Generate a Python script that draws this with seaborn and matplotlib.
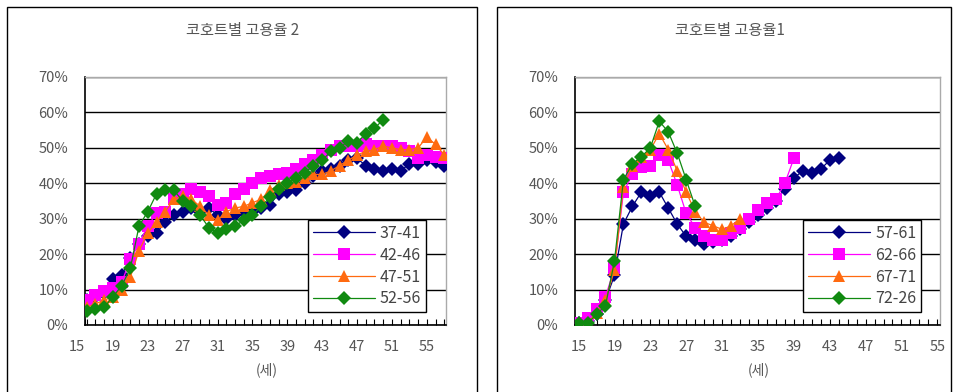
import matplotlib
matplotlib.use("Agg")
import matplotlib.pyplot as plt
from matplotlib.patches import Rectangle
from matplotlib.ticker import PercentFormatter, MultipleLocator
import seaborn as sns
import pandas as pd

# ---------------- data ----------------
left_title = "코호트별 고용율 2"
right_title = "코호트별 고용율1"
xlabel = "(세)"

left_cohorts = ["37-41", "42-46", "47-51", "52-56"]
left_ages_a = list(range(16, 58))  # 16..57
c37_41 = [7, 8, 9, 13, 14, 19, 23, 25, 26, 29, 31, 32, 33, 32, 33, 31, 30, 31, 32, 32, 33,
          34, 37, 37.5, 38, 40, 42, 43.5, 44, 45, 46.5, 47, 45, 44, 43.5, 44, 43.5, 45.5,
          45.5, 46.5, 46, 45]
c42_46 = [7, 8.5, 9.5, 10.5, 12, 18.5, 23, 28, 31.5, 32, 35.5, 37, 38.5, 37.5, 36.5, 34,
          34.5, 37, 38.5, 40, 41.5, 42, 42.5, 43, 44, 45.5, 46.5, 48, 49.5, 50.5, 50.5,
          50.5, 51, 50.5, 50.5, 50.5, 50, 49, 47, 48, 47.5, 47]
c47_51 = [5, 6, 7, 8, 10, 13.5, 21, 26, 29, 32, 35.5, 36.5, 35.5, 33.5, 31, 29.5, 32, 33,
          33.5, 34.5, 35.5, 38, 39.5, 40, 40.5, 41.5, 42.5, 42.5, 43.5, 45, 46.5, 48, 49,
          49.5, 50.5, 50, 49.5, 49.5, 50, 53, 51, 48]
left_ages_g = list(range(16, 51))  # 16..50
c52_56 = [4, 4.5, 5, 8, 11, 16, 28, 32, 37, 38, 38, 35, 33.5, 31, 27.5, 26, 27, 28, 29.5,
          31, 33.5, 36, 38.5, 40, 41.5, 43, 45, 46.5, 49, 50, 52, 51.5, 54, 55.5, 58]

right_cohorts = ["57-61", "62-66", "67-71", "72-26"]
c57_61_ages = list(range(15, 45))  # 15..44
c57_61 = [0.5, 1, 3, 7, 14, 28.5, 33.5, 37.5, 36.5, 37.5, 33, 28.5, 25, 24, 23, 23.5, 24,
          25, 27, 29, 31, 33, 35, 38.5, 41.5, 43.5, 43, 44, 46.5, 47]
c62_66_ages = list(range(15, 40))  # 15..39
c62_66 = [0.5, 2, 4.5, 8, 16, 37.5, 42.5, 44.5, 45, 48, 46.5, 39.5, 31.5, 27.5, 25, 24, 24,
          26, 27.5, 30, 32.5, 34.5, 35.5, 40, 47]
c67_71_ages = list(range(15, 34))  # 15..33
c67_71 = [0, 0.5, 3.5, 7, 15.5, 39, 45, 47.5, 49.5, 54, 49.5, 43.5, 37.5, 32, 29, 28, 27,
          28, 30]
c72_26_ages = list(range(15, 29))  # 15..28
c72_26 = [0.5, 0.5, 3, 5.5, 18, 41, 45.5, 47.5, 50, 57.5, 54.5, 48.5, 41, 33.5]

xtick_vals = list(range(15, 56, 4))
ytick_vals = list(range(0, 71, 10))

# ---------------- style ----------------
sns.set_style("white")
plt.rcParams["font.family"] = ["Noto Sans CJK KR", "DejaVu Sans"]

colors = ["#000080", "#FF00FF", "#FF6A10", "#108A10"]
markers = ["D", "s", "^", "D"]
msizes = [7, 8.5, 9, 7]
text_gray = "#555555"

W, H = 957, 392
fig = plt.figure(figsize=(W / 100, H / 100), dpi=100)


def frac_box(x0, y0, x1, y1):
    return [x0 / W, 1 - y1 / H, (x1 - x0) / W, (y1 - y0) / H]


def long_df(series_list, names):
    frames = []
    for (ages, vals), name in zip(series_list, names):
        frames.append(pd.DataFrame({"age": ages, "rate": vals, "cohort": name}))
    return pd.concat(frames, ignore_index=True)


def draw_panel(ax, df, names, xlim, leg_anchor):
    for i, name in enumerate(names):
        sub = df[df["cohort"] == name]
        sns.lineplot(data=sub, x="age", y="rate", ax=ax, color=colors[i],
                     marker=markers[i], markersize=msizes[i], markeredgewidth=0,
                     linewidth=0.9, label=name, zorder=3 + i)
    ax.set_xlim(*xlim)
    ax.set_ylim(0, 70)
    ax.set_yticks(ytick_vals)
    ax.yaxis.set_major_formatter(PercentFormatter(decimals=0))
    ax.grid(axis="y", color="black", linewidth=1.0)
    ax.grid(axis="x", visible=False)
    ax.set_axisbelow(True)
    ax.set_xlabel("")
    ax.set_ylabel("")
    for s in ["left", "bottom"]:
        ax.spines[s].set_color("black")
        ax.spines[s].set_linewidth(1.2)
    for s in ["top", "right"]:
        ax.spines[s].set_color("#AAAAAA")
        ax.spines[s].set_linewidth(1.0)
    ax.tick_params(axis="y", length=0, pad=12, labelsize=10.5, labelcolor=text_gray)
    ax.xaxis.set_minor_locator(MultipleLocator(1))
    ax.tick_params(axis="x", which="both", direction="in", length=4, width=0.8,
                   color="black", bottom=True)
    ax.tick_params(axis="x", which="major", pad=11, labelsize=10.5, labelcolor=text_gray)
    leg = ax.legend(loc="lower left", bbox_to_anchor=leg_anchor, frameon=True,
                    fancybox=False, edgecolor="black", framealpha=1, fontsize=11.5,
                    handlelength=3.9, handletextpad=0.3, borderpad=0.3,
                    labelspacing=0.3, borderaxespad=0)
    leg.get_frame().set_linewidth(1.0)
    for t in leg.get_texts():
        t.set_color("#444444")


# left panel
axL = fig.add_axes(frac_box(85, 77, 446, 325))
dfL = long_df([(left_ages_a, c37_41), (left_ages_a, c42_46), (left_ages_a, c47_51),
               (left_ages_g, c52_56)], left_cohorts)
draw_panel(axL, dfL, left_cohorts, (15.8, 57.2), (0.618, 0.052))
# first label ("15") sits just left of the plot area: place it at the left edge, right-aligned
ticksL = [15.8] + xtick_vals[1:]
axL.set_xticks(ticksL)
axL.set_xticklabels([str(v) for v in xtick_vals])
axL.get_xticklabels()[0].set_horizontalalignment("right")
axL.xaxis.set_minor_locator(MultipleLocator(1))

# right panel
axR = fig.add_axes(frac_box(575, 77, 940, 325))
dfR = long_df([(c57_61_ages, c57_61), (c62_66_ages, c62_66), (c67_71_ages, c67_71),
               (c72_26_ages, c72_26)], right_cohorts)
draw_panel(axR, dfR, right_cohorts, (14.6, 55.3), (0.625, 0.052))
axR.set_xticks(xtick_vals)
axR.set_xticklabels([str(v) for v in xtick_vals])
axR.xaxis.set_minor_locator(MultipleLocator(1))

# titles and axis captions
fig.text(243 / W, 1 - 31 / H, left_title, ha="center", va="center", fontsize=11,
         color=text_gray)
fig.text(730 / W, 1 - 31 / H, right_title, ha="center", va="center", fontsize=11,
         color=text_gray)
fig.text(267 / W, 1 - 370 / H, xlabel, ha="center", va="center", fontsize=10,
         color=text_gray)
fig.text(759 / W, 1 - 370 / H, xlabel, ha="center", va="center", fontsize=10,
         color=text_gray)

# chart-area frames (open at the bottom edge of the image)
for x0, x1 in [(7, 477), (497, 951)]:
    fig.add_artist(Rectangle((x0 / W, -0.05), (x1 - x0) / W, 1.05 - 7 / H,
                             transform=fig.transFigure, fill=False, edgecolor="black",
                             linewidth=1.0, clip_on=False))

fig.savefig("out.png", dpi=100)
